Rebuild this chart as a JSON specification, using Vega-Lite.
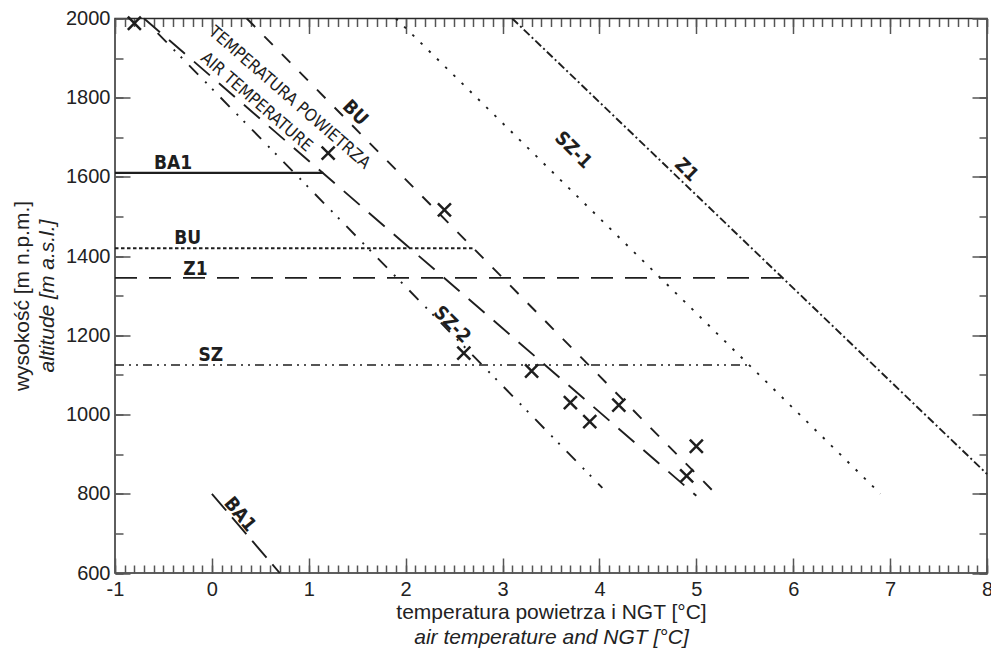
{
  "$schema": "https://vega.github.io/schema/vega-lite/v6.json",
  "width": 872,
  "height": 554.5,
  "autosize": "none",
  "padding": {"left": 115, "top": 18.5, "right": 4, "bottom": 80},
  "background": "white",
  "config": {
    "view": {"stroke": "#2a2a2a", "strokeWidth": 1.5},
    "axis": {
      "domain": false,
      "grid": false,
      "tickColor": "#555555",
      "tickWidth": 1.5,
      "labelFont": "Liberation Sans",
      "labelFontSize": 20,
      "labelColor": "#222222",
      "titleFont": "Liberation Sans",
      "titleFontSize": 21,
      "titleFontWeight": "normal",
      "titleColor": "#222222",
      "labelFlush": false,
      "labelOverlap": false
    }
  },
  "datasets": {
    "slant": [
      {"series": "air", "t": -0.7, "h": 2000}, {"series": "air", "t": 5.0, "h": 795},
      {"series": "BU-s", "t": 0.36, "h": 2000}, {"series": "BU-s", "t": 5.2, "h": 800},
      {"series": "SZ-1", "t": 1.9, "h": 2000}, {"series": "SZ-1", "t": 6.9, "h": 800},
      {"series": "Z1-s", "t": 3.1, "h": 2000}, {"series": "Z1-s", "t": 8.0, "h": 850},
      {"series": "SZ-2", "t": -0.56, "h": 1963}, {"series": "SZ-2", "t": 4.03, "h": 815},
      {"series": "BA1-s", "t": 0.0, "h": 800}, {"series": "BA1-s", "t": 0.7, "h": 600}
    ],
    "horiz": [
      {"label": "BA1", "t0": -1, "t1": 1.15, "h": 1610},
      {"label": "BU", "t0": -1, "t1": 2.69, "h": 1420},
      {"label": "Z1", "t0": -1, "t1": 5.88, "h": 1345},
      {"label": "SZ", "t0": -1, "t1": 5.55, "h": 1125}
    ],
    "pts": [
      {"t": -0.8, "h": 1988}, {"t": 1.2, "h": 1660}, {"t": 2.4, "h": 1517},
      {"t": 2.6, "h": 1155}, {"t": 3.3, "h": 1110}, {"t": 3.7, "h": 1030},
      {"t": 3.9, "h": 982}, {"t": 4.2, "h": 1024}, {"t": 5.0, "h": 920},
      {"t": 4.9, "h": 845}
    ],
    "slantLabels": [
      {"label": "BU", "t": 1.48, "h": 1762},
      {"label": "SZ-1", "t": 3.73, "h": 1668},
      {"label": "Z1", "t": 4.9, "h": 1618},
      {"label": "SZ-2", "t": 2.48, "h": 1227}
    ],
    "ba1Label": [
      {"label": "BA1", "t": 0.29, "h": 748}
    ],
    "tempLabels": [
      {"label": "TEMPERATURA POWIETRZA", "t": 0.8, "h": 1800},
      {"label": "AIR TEMPERATURE", "t": 0.46, "h": 1789}
    ],
    "horizLabels": [
      {"label": "BA1", "t": -0.4, "h": 1635},
      {"label": "BU", "t": -0.25, "h": 1446},
      {"label": "Z1", "t": -0.17, "h": 1368},
      {"label": "SZ", "t": -0.01, "h": 1150}
    ]
  },
  "layer": [
    {
      "data": {"name": "slant"},
      "mark": {"type": "line", "strokeWidth": 1.9, "color": "#1e1e1e", "strokeCap": "butt"},
      "encoding": {
        "x": {"field": "t", "type": "quantitative",
          "scale": {"domain": [-1, 8], "nice": false, "zero": false},
          "axis": {"orient": "bottom", "values": [-1, 0, 1, 2, 3, 4, 5, 6, 7, 8], "tickSize": -15,
            "labelPadding": 21, "labelExpr": "'' + datum.value",
            "title": "temperatura powietrza i NGT [°C]", "titleX": 436, "titleY": 45, "titleBaseline": "alphabetic"}},
        "y": {"field": "h", "type": "quantitative",
          "scale": {"domain": [600, 2000], "nice": false, "zero": false},
          "axis": {"orient": "left", "values": [600, 800, 1000, 1200, 1400, 1600, 1800, 2000], "tickSize": -15,
            "labelPadding": 20, "labelExpr": "'' + datum.value",
            "title": "wysokość [m n.p.m.]", "titleX": -93, "titleY": 277, "titleAngle": -90, "titleBaseline": "middle"}},
        "strokeDash": {"field": "series", "type": "nominal",
          "scale": {"domain": ["air", "BU-s", "SZ-1", "Z1-s", "SZ-2", "BA1-s"],
            "range": [[21, 12], [12, 13], [2.5, 9], [8, 3, 2, 3], [13, 10, 2, 8, 2, 10], [22, 9]]},
          "legend": null}
      }
    },
    {
      "data": {"name": "horiz"},
      "mark": {"type": "rule", "color": "#1e1e1e", "strokeCap": "butt"},
      "encoding": {
        "x": {"field": "t0", "type": "quantitative",
          "scale": {"domain": [-1, 8], "nice": false, "zero": false},
          "axis": {"orient": "bottom", "tickSize": -8, "labels": false,
            "values": [-1,-0.9,-0.8,-0.7,-0.6,-0.5,-0.4,-0.3,-0.2,-0.1,0,0.1,0.2,0.3,0.4,0.5,0.6,0.7,0.8,0.9,1,1.1,1.2,1.3,1.4,1.5,1.6,1.7,1.8,1.9,2,2.1,2.2,2.3,2.4,2.5,2.6,2.7,2.8,2.9,3,3.1,3.2,3.3,3.4,3.5,3.6,3.7,3.8,3.9,4,4.1,4.2,4.3,4.4,4.5,4.6,4.7,4.8,4.9,5,5.1,5.2,5.3,5.4,5.5,5.6,5.7,5.8,5.9,6,6.1,6.2,6.3,6.4,6.5,6.6,6.7,6.8,6.9,7,7.1,7.2,7.3,7.4,7.5,7.6,7.7,7.8,7.9,8],
            "title": "air temperature and NGT [°C]", "titleFontStyle": "italic",
            "titleX": 436, "titleY": 70, "titleBaseline": "alphabetic"}},
        "x2": {"field": "t1"},
        "y": {"field": "h", "type": "quantitative",
          "scale": {"domain": [600, 2000], "nice": false, "zero": false},
          "axis": {"orient": "left", "tickSize": -8, "labels": false,
            "values": [600, 700, 800, 900, 1000, 1100, 1200, 1300, 1400, 1500, 1600, 1700, 1800, 1900, 2000],
            "title": "altitude [m a.s.l.]", "titleFontStyle": "italic",
            "titleX": -68, "titleY": 277, "titleAngle": -90, "titleBaseline": "middle"}},
        "strokeDash": {"field": "label", "type": "nominal",
          "scale": {"domain": ["BA1", "BU", "Z1", "SZ"], "range": [[1, 0], [3.5, 2.5], [22, 12], [9, 5, 2, 5, 2, 5]]},
          "legend": null},
        "strokeWidth": {"field": "label", "type": "ordinal",
          "scale": {"domain": ["BA1", "BU", "Z1", "SZ"], "range": [2.2, 1.6, 2.6, 1.9]},
          "legend": null}
      }
    },
    {
      "data": {"name": "pts"},
      "mark": {"type": "point", "shape": "M-1,-1L1,1M-1,1L1,-1", "size": 170, "strokeWidth": 2.5,
        "color": "#1e1e1e", "opacity": 1, "filled": false},
      "encoding": {
        "x": {"field": "t", "type": "quantitative",
          "scale": {"domain": [-1, 8], "nice": false, "zero": false},
          "axis": {"orient": "top", "values": [-1, 0, 1, 2, 3, 4, 5, 6, 7, 8], "tickSize": -15, "labels": false, "title": null}},
        "y": {"field": "h", "type": "quantitative",
          "scale": {"domain": [600, 2000], "nice": false, "zero": false},
          "axis": {"orient": "right", "values": [600, 800, 1000, 1200, 1400, 1600, 1800, 2000], "tickSize": -15, "labels": false, "title": null}}
      }
    },
    {
      "data": {"name": "slantLabels"},
      "mark": {"type": "text", "angle": 45, "font": "Liberation Sans Narrow, DejaVu Sans Condensed, sans-serif",
        "fontWeight": "bold", "fontSize": 19, "color": "#1e1e1e", "align": "center", "baseline": "middle"},
      "encoding": {
        "x": {"field": "t", "type": "quantitative",
          "scale": {"domain": [-1, 8], "nice": false, "zero": false},
          "axis": {"orient": "top", "tickSize": -8, "labels": false, "title": null,
            "values": [-1,-0.9,-0.8,-0.7,-0.6,-0.5,-0.4,-0.3,-0.2,-0.1,0,0.1,0.2,0.3,0.4,0.5,0.6,0.7,0.8,0.9,1,1.1,1.2,1.3,1.4,1.5,1.6,1.7,1.8,1.9,2,2.1,2.2,2.3,2.4,2.5,2.6,2.7,2.8,2.9,3,3.1,3.2,3.3,3.4,3.5,3.6,3.7,3.8,3.9,4,4.1,4.2,4.3,4.4,4.5,4.6,4.7,4.8,4.9,5,5.1,5.2,5.3,5.4,5.5,5.6,5.7,5.8,5.9,6,6.1,6.2,6.3,6.4,6.5,6.6,6.7,6.8,6.9,7,7.1,7.2,7.3,7.4,7.5,7.6,7.7,7.8,7.9,8]}},
        "y": {"field": "h", "type": "quantitative",
          "scale": {"domain": [600, 2000], "nice": false, "zero": false},
          "axis": {"orient": "right", "tickSize": -8, "labels": false, "title": null,
            "values": [600, 700, 800, 900, 1000, 1100, 1200, 1300, 1400, 1500, 1600, 1700, 1800, 1900, 2000]}},
        "text": {"field": "label"}
      }
    },
    {
      "data": {"name": "ba1Label"},
      "mark": {"type": "text", "angle": 50, "font": "Liberation Sans Narrow, DejaVu Sans Condensed, sans-serif",
        "fontWeight": "bold", "fontSize": 19, "color": "#1e1e1e", "align": "center", "baseline": "middle"},
      "encoding": {
        "x": {"field": "t", "type": "quantitative", "scale": {"domain": [-1, 8], "nice": false, "zero": false}, "axis": null},
        "y": {"field": "h", "type": "quantitative", "scale": {"domain": [600, 2000], "nice": false, "zero": false}, "axis": null},
        "text": {"field": "label"}
      }
    },
    {
      "data": {"name": "tempLabels"},
      "mark": {"type": "text", "angle": 41, "font": "Liberation Sans Narrow, DejaVu Sans Condensed, sans-serif",
        "fontSize": 17, "color": "#1e1e1e", "align": "center", "baseline": "middle"},
      "encoding": {
        "x": {"field": "t", "type": "quantitative", "scale": {"domain": [-1, 8], "nice": false, "zero": false}, "axis": null},
        "y": {"field": "h", "type": "quantitative", "scale": {"domain": [600, 2000], "nice": false, "zero": false}, "axis": null},
        "text": {"field": "label"}
      }
    },
    {
      "data": {"name": "horizLabels"},
      "mark": {"type": "text", "font": "Liberation Sans Narrow, DejaVu Sans Condensed, sans-serif",
        "fontWeight": "bold", "fontSize": 19, "color": "#1e1e1e", "align": "center", "baseline": "middle"},
      "encoding": {
        "x": {"field": "t", "type": "quantitative", "scale": {"domain": [-1, 8], "nice": false, "zero": false}, "axis": null},
        "y": {"field": "h", "type": "quantitative", "scale": {"domain": [600, 2000], "nice": false, "zero": false}, "axis": null},
        "text": {"field": "label"}
      }
    }
  ],
  "resolve": {
    "axis": {"x": "independent", "y": "independent"},
    "scale": {"strokeDash": "independent", "strokeWidth": "independent"}
  }
}
